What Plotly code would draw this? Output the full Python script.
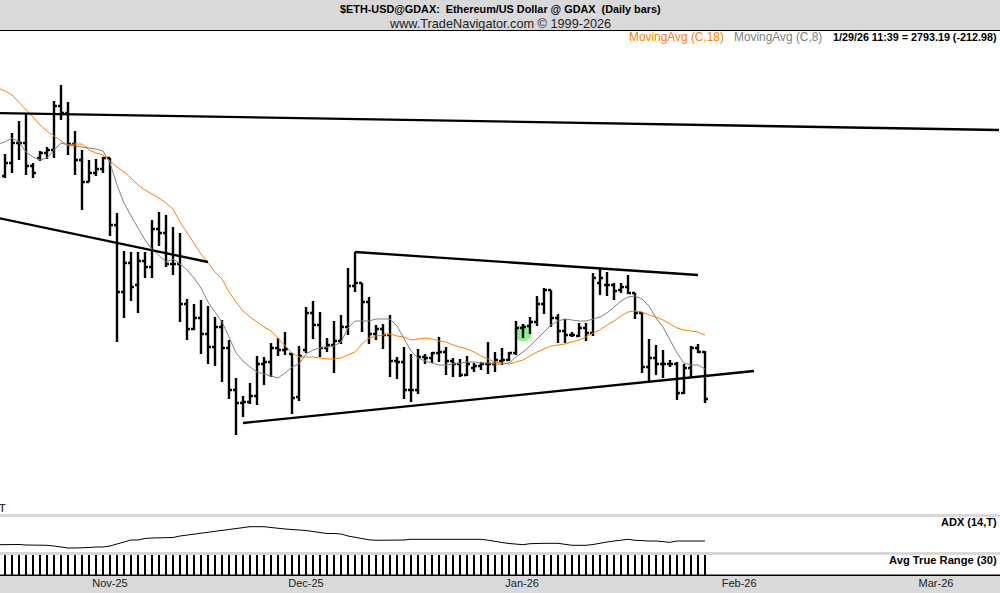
import pandas as pd
import plotly.graph_objects as go

# daily bars, Oct 21 2025 .. Jan 29 2026
high = [4018, 4123, 4183, 4223, 3973, 4033, 4053, 4283, 4363, 4278, 4133, 4038, 3988, 3993, 4003, 3998, 3723, 3533, 3528, 3528,
        3528, 3688, 3728, 3713, 3653, 3623, 3293, 3268, 3288, 3258, 3203, 3188, 3088, 2898, 2808, 2873, 3008, 3003, 3073, 3098,
        3128, 3023, 3058, 3253, 3283, 3228, 3098, 3183, 3213, 3448, 3528, 3373, 3303, 3163, 3168, 3213, 3003, 3053, 3018, 3043,
        3018, 3028, 3103, 3053, 2998, 2993, 3008, 2973, 2978, 3078, 3028, 3048, 3028, 3183, 3168, 3203, 3308, 3348, 3338, 3218,
        3193, 3128, 3173, 3173, 3423, 3448, 3428, 3373, 3373, 3413, 3323, 3228, 3093, 3063, 3038, 2988, 2978, 2968, 3058, 3068,
        3033]
low = [3898, 3923, 3988, 3913, 3898, 3983, 3993, 3998, 4188, 4013, 3913, 3738, 3878, 3908, 3923, 3608, 3078, 3198, 3283, 3223,
       3398, 3398, 3558, 3453, 3413, 3178, 3088, 3138, 3018, 2968, 2958, 2878, 2793, 2613, 2703, 2768, 2763, 2863, 2903, 3008,
       3013, 2718, 2783, 3023, 3093, 3003, 3028, 2923, 3068, 3113, 3328, 3128, 3068, 3088, 3043, 2903, 2893, 2793, 2778, 2818,
       2968, 2973, 2978, 2913, 2903, 2903, 2908, 2928, 2938, 2918, 2928, 2963, 2983, 3013, 3098, 3118, 3158, 3218, 3153, 3073,
       3073, 3103, 3103, 3083, 3108, 3313, 3308, 3288, 3323, 3318, 3193, 2923, 2883, 2913, 2898, 2953, 2788, 2818, 2903, 3023,
       2773]
opens = [3908, 3973, 4073, 4073, 3958, 3998, 4023, 4038, 4258, 4223, 4068, 3988, 3878, 3923, 3943, 3998, 3663, 3328, 3473, 3363,
         3483, 3453, 3643, 3623, 3468, 3468, 3268, 3143, 3198, 3118, 3053, 3153, 3048, 2838, 2773, 2778, 2808, 2968, 2978, 3048,
         3038, 3018, 2803, 3038, 3223, 3163, 3048, 3063, 3083, 3153, 3358, 3373, 3278, 3118, 3143, 3113, 2983, 2978, 2838, 2838,
         3003, 2998, 3023, 3028, 2983, 2968, 2913, 2948, 2958, 2968, 2968, 2983, 2988, 3023, 3148, 3158, 3178, 3268, 3338, 3198,
         3133, 3113, 3108, 3148, 3123, 3373, 3363, 3363, 3338, 3353, 3323, 3223, 2953, 2998, 2968, 2968, 2968, 2823, 2948, 3048,
         3028]
closes = [3973, 4073, 4073, 3958, 3923, 4023, 4038, 4258, 4223, 4068, 3988, 3878, 3923, 3943, 3998, 3663, 3328, 3473, 3353, 3483,
          3453, 3643, 3623, 3468, 3468, 3268, 3143, 3198, 3118, 3053, 3153, 3048, 2838, 2773, 2778, 2808, 2968, 2978, 3048, 3038,
          3043, 2798, 3008, 3223, 3163, 3048, 3063, 3083, 3153, 3358, 3373, 3278, 3118, 3143, 3113, 2983, 2978, 2838, 2838, 3003,
          2998, 3023, 3028, 2983, 2968, 2913, 2968, 2958, 2968, 2968, 2988, 2988, 3023, 3148, 3153, 3178, 3268, 3338, 3198, 3133,
          3113, 3113, 3148, 3123, 3398, 3398, 3363, 3333, 3353, 3323, 3223, 2953, 2998, 2968, 2968, 2968, 2823, 2948, 3048, 3028,
          2793.19]

# moving averages start one day earlier, off the left edge
ma18 = [4348, 4333, 4313, 4278, 4238, 4203, 4163, 4133, 4108, 4083, 4063, 4068, 4068, 4038, 4023, 4013, 3983, 3953, 3928, 3898,
        3863, 3838, 3818, 3798, 3773, 3743, 3678, 3623, 3573, 3518, 3473, 3428, 3393, 3328, 3278, 3233, 3203, 3178, 3153, 3133,
        3098, 3058, 3023, 3003, 3003, 3003, 2998, 2993, 2993, 2998, 3013, 3028, 3068, 3098, 3108, 3113, 3118, 3108, 3103, 3088,
        3093, 3098, 3093, 3083, 3078, 3063, 3053, 3043, 3028, 3008, 2993, 2978, 2973, 2968, 2978, 2988, 3008, 3028, 3043, 3058,
        3063, 3068, 3078, 3088, 3103, 3123, 3138, 3163, 3183, 3208, 3228, 3233, 3228, 3213, 3203, 3188, 3168, 3148, 3138, 3133,
        3128, 3113]
ma8 = [4068, 4078, 4098, 4078, 4028, 4003, 3988, 3998, 4038, 4073, 4063, 4058, 4053, 4048, 4043, 4033, 3973, 3863, 3773, 3708,
       3648, 3588, 3543, 3508, 3478, 3493, 3468, 3438, 3398, 3348, 3278, 3228, 3178, 3103, 3023, 2983, 2953, 2928, 2918, 2908,
       2898, 2923, 2953, 2968, 3018, 3038, 3048, 3053, 3058, 3078, 3148, 3183, 3183, 3183, 3193, 3193, 3193, 3158, 3093, 3033,
       2998, 2983, 2973, 2963, 2963, 2968, 2973, 2978, 2978, 2973, 2973, 2968, 2968, 2973, 3003, 3028, 3058, 3093, 3133, 3163,
       3183, 3193, 3188, 3183, 3183, 3193, 3203, 3223, 3253, 3283, 3303, 3308, 3293, 3258, 3198, 3153, 3088, 3023, 2973, 2963,
       2963, 2943]
adx = [7.3, 7.5, 8.0, 7.5, 7.0, 7.0, 7.0, 6.7, 6.0, 5.0, 4.0, 4.0, 4.0, 4.5, 5.0, 5.0, 6.0, 8.0, 10, 12,
       12, 13.5, 14, 14, 14, 14.5, 16, 17, 18, 19, 20, 21, 22, 23, 24, 25, 25.3, 25.3, 25.3, 24.5,
       23.5, 23, 22.5, 22.3, 21.5, 20.5, 19.3, 18.5, 18.5, 18, 16, 14.5, 13.5, 12.2, 11.7, 11.7, 11.7, 11.8, 12, 12.7,
       12.7, 12.7, 12.7, 12.7, 12.7, 12.7, 12.7, 12.7, 12.7, 12.7, 11.8, 11, 9.5, 8.5, 7.7, 7.3, 8.3, 8.7, 8.7, 8.7,
       8.7, 7.7, 6.7, 6.7, 6.7, 7.5, 9, 10, 11, 12, 12.7, 11.7, 11, 11, 11, 10.5, 9.7, 11, 11, 11,
       11, 11]
atr = [141, 141, 142, 142, 141, 140, 140, 141, 142, 143, 143, 144, 143, 142, 142, 145, 151, 151, 150, 150,
       149, 150, 149, 149, 148, 149, 148, 147, 147, 146, 146, 147, 146, 147, 146, 145, 146, 145, 145, 144,
       143, 145, 147, 147, 146, 145, 144, 144, 143, 144, 143, 143, 142, 141, 140, 140, 139, 139, 139, 139,
       136, 135, 134, 133, 132, 131, 129, 127, 125, 125, 124, 124, 123, 124, 124, 124, 124, 124, 125, 125,
       126, 125, 125, 125, 128, 128, 128, 127, 126, 125, 125, 128, 129, 129, 130, 129, 130, 131, 131, 130,
       131]

# hand drawn trend lines: (dates, prices)
top_line_dates = ["2025-10-20", "2026-03-12"]
top_line_prices = [4223, 4138]
left_line_dates = ["2025-10-20", "2025-11-19"]
left_line_prices = [3698, 3478]
wedge_top_dates = ["2025-12-10", "2026-01-28"]
wedge_top_prices = [3528, 3413]
wedge_bottom_dates = ["2025-11-24", "2026-02-05"]
wedge_bottom_prices = [2673, 2933]

signal_date = "2026-01-03"
signal_price = 3123

tick_dates = ["2025-11-05", "2025-12-03", "2026-01-02 21:00", "2026-02-02 21:00", "2026-03-03"]
tick_labels = ["Nov-25", "Dec-25", "Jan-26", "Feb-26", "Mar-26"]

bar_dates = pd.date_range("2025-10-21", periods=len(closes))
ma_dates = pd.date_range("2025-10-20", periods=len(ma18))

WIDTH = 1000
HEIGHT = 593
BAND = "#d9d9d9"


def frac(px):
    return 1 - px / HEIGHT


def label(text, x, y, color="black", size=11, bold=True, anchor="center"):
    return dict(text="<b>%s</b>" % text if bold else text, x=x / WIDTH, y=frac(y), xref="paper", yref="paper",
                xanchor=anchor, yanchor="middle", showarrow=False, font=dict(color=color, size=size))


def band(y0, y1, color=BAND, layer="above"):
    return dict(type="rect", xref="paper", yref="paper", x0=0, x1=1, y0=frac(y0), y1=frac(y1),
                fillcolor=color, line_width=0, layer=layer)


fig = go.Figure()

fig.add_trace(go.Ohlc(x=bar_dates, open=opens, high=high, low=low, close=closes, tickwidth=0.42,
                      increasing=dict(line=dict(color="black", width=2.4)),
                      decreasing=dict(line=dict(color="black", width=2.4))))
fig.add_trace(go.Scatter(x=ma_dates, y=ma18, mode="lines", line=dict(color="#ff8000", width=1)))
fig.add_trace(go.Scatter(x=ma_dates, y=ma8, mode="lines", line=dict(color="#808080", width=1)))

for xs, ys in [(top_line_dates, top_line_prices), (left_line_dates, left_line_prices),
               (wedge_top_dates, wedge_top_prices), (wedge_bottom_dates, wedge_bottom_prices)]:
    fig.add_trace(go.Scatter(x=xs, y=ys, mode="lines", line=dict(color="black", width=2.3)))

fig.add_trace(go.Scatter(x=ma_dates, y=adx, yaxis="y2", mode="lines", line=dict(color="black", width=1)))
fig.add_trace(go.Bar(x=bar_dates, y=atr, yaxis="y3", width=21600000, marker=dict(color="black", line_width=0)))

fig.update_layout(
    width=WIDTH,
    height=HEIGHT,
    margin=dict(l=0, r=0, t=0, b=0),
    paper_bgcolor="white",
    plot_bgcolor="white",
    showlegend=False,
    hovermode=False,
    font=dict(family="Liberation Sans, Arial, sans-serif", color="black"),
    xaxis=dict(range=["2025-10-20 06:51", "2026-03-12 03:26"], anchor="y3", rangeslider=dict(visible=False),
               showgrid=False, zeroline=False, tickmode="array", tickvals=tick_dates, ticktext=tick_labels,
               ticks="", tickfont=dict(size=11, color="#222222")),
    yaxis=dict(domain=[frac(515), frac(31)], range=[2213, 4633], visible=False),
    yaxis2=dict(domain=[frac(552), frac(517)], range=[0, 35], anchor="x", visible=False),
    yaxis3=dict(domain=[frac(575), frac(555)], range=[0, 120], anchor="x", visible=False),
    shapes=[
        # green signal dot sits behind the bars
        dict(type="circle", layer="below", xref="x", yref="y", xsizemode="pixel", ysizemode="pixel",
             xanchor=signal_date, yanchor=signal_price, x0=-8.5, x1=8.5, y0=-8.5, y1=8.5,
             fillcolor="#90ee90", line_width=0),
        band(0, 30),
        band(30, 31, "black"),
        band(514, 517),
        band(552, 555),
        band(574.5, 576, "black"),
        band(576, 593, layer="below"),
    ],
    annotations=[
        label("$ETH-USD@GDAX:&nbsp;&nbsp;Ethereum/US Dollar @ GDAX&nbsp;&nbsp;(Daily bars)", 500, 9, size=10.85),
        label("www.TradeNavigator.com © 1999-2026", 500.5, 24, color="#222222", size=12.7, bold=False),
        label("MovingAvg (C,18)", 627, 37, color="#ff8000", size=11.9, bold=False, anchor="left"),
        label("MovingAvg (C,8)", 732, 37, color="#808080", size=11.9, bold=False, anchor="left"),
        label("1/29/26 11:39 = 2793.19 (-212.98)", 999, 37, size=10.75, anchor="right"),
        label("ADX (14,T)", 999, 522, anchor="right"),
        label("Avg True Range (30)", 999, 560, size=11.2, anchor="right"),
        label("T", -3, 508, anchor="left", bold=False),
    ],
)

fig.write_html("out.html", config={"displayModeBar": False},
               post_script="document.body.style.margin='0';document.documentElement.style.overflow='hidden';")
